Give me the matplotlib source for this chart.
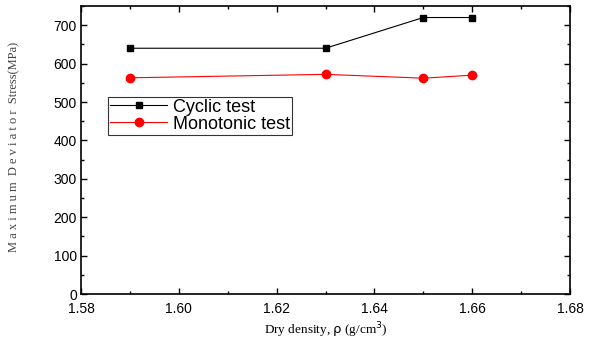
import matplotlib
matplotlib.use('Agg')
import matplotlib.pyplot as plt
from matplotlib.ticker import MultipleLocator, FormatStrFormatter

# values
density = [1.59, 1.63, 1.65, 1.66]
cyclic = [640, 640, 720, 720]
monotonic = [563, 572, 562, 570]

fig = plt.figure(figsize=(5.93, 3.38), dpi=100)
ax = fig.add_axes([81 / 593, 1 - 294 / 338, (570 - 81) / 593, (294 - 6) / 338])

ax.plot(density, cyclic, color='black', marker='s', markersize=5, linewidth=0.8,
        label='Cyclic test')
ax.plot(density, monotonic, color='red', marker='o', markersize=6, linewidth=0.8,
        label='Monotonic test')

ax.set_xlim(1.58, 1.68)
ax.set_ylim(0, 750)
ax.xaxis.set_major_locator(MultipleLocator(0.02))
ax.xaxis.set_minor_locator(MultipleLocator(0.01))
ax.yaxis.set_major_locator(MultipleLocator(100))
ax.yaxis.set_minor_locator(MultipleLocator(50))
ax.xaxis.set_major_formatter(FormatStrFormatter('%.2f'))
ax.tick_params(which='both', direction='in', top=True, right=True, width=1.0)
ax.tick_params(which='major', length=4, labelsize=10)
ax.tick_params(axis='x', pad=6)
ax.tick_params(axis='y', pad=3)
ax.tick_params(which='minor', length=2)
for lbl in ax.get_xticklabels() + ax.get_yticklabels():
    lbl.set_fontfamily('Liberation Sans')
for s in ax.spines.values():
    s.set_linewidth(1.2)

ax.set_xlabel(r'Dry density, $\mathrm{\rho}$ (g/cm$^\mathrm{3}$)',
              fontfamily='Liberation Serif', fontsize=9.5)
ax.xaxis.set_label_coords(0.5, -0.09)
ax.set_ylabel('M a x i m u m  D e v i a t o r  Stress(MPa)',
              fontfamily='Liberation Serif', fontsize=9, color='#444444')
ax.yaxis.set_label_coords(-0.125, 0.51)

leg = ax.legend(loc='upper left', bbox_to_anchor=(0.055, 0.684), fontsize=13,
                frameon=True, fancybox=False, edgecolor='black',
                borderpad=0.1, labelspacing=0.0, handlelength=3.2,
                handletextpad=0.3, borderaxespad=0)
leg.get_frame().set_linewidth(0.8)
for t in leg.get_texts():
    t.set_fontfamily('Liberation Sans')

fig.savefig('out.png', dpi=100)
